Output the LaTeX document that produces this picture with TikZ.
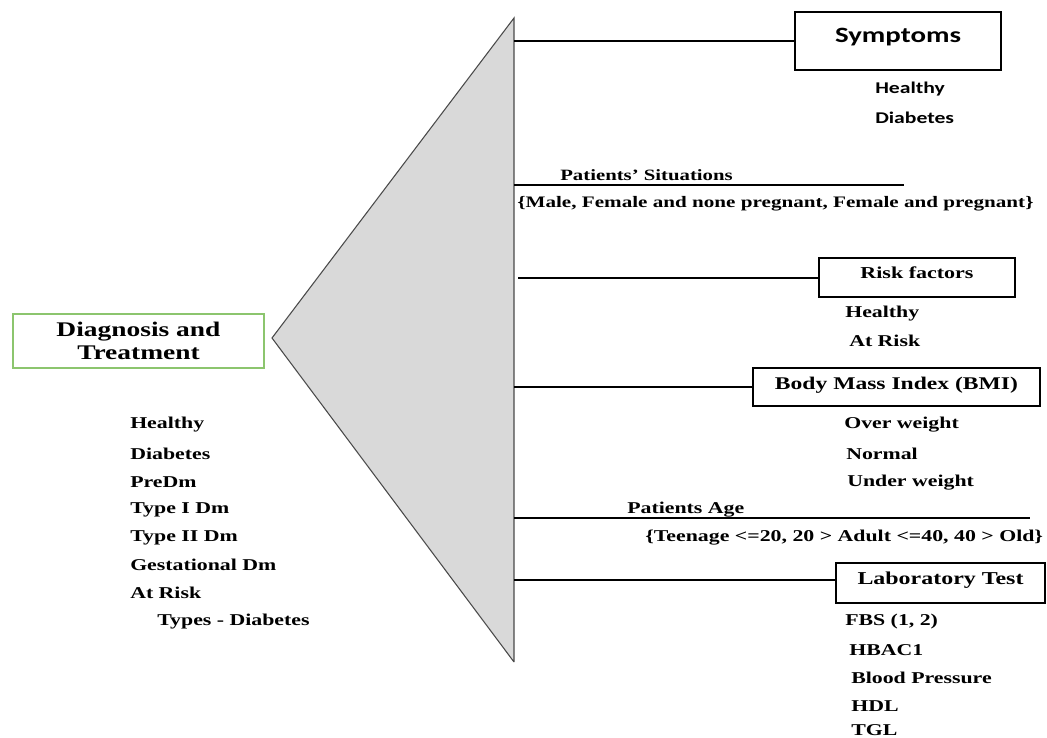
\documentclass[tikz,border=0pt]{standalone}
\usepackage{fontspec}
\setmainfont{Liberation Serif}[FakeStretch=1.32]
\newfontfamily\calfont{Carlito}[FakeStretch=1.32]
\usepackage{xcolor}
\usepackage{tikz}

\definecolor{boxgreen}{HTML}{8CC56E}
\definecolor{trifill}{HTML}{D9D9D9}
\definecolor{triedge}{HTML}{4A4A4A}

\tikzset{
  catbox/.style={draw, line width=1pt, inner sep=0pt},
  item/.style={anchor=west, inner sep=0pt},
  branch/.style={line width=1.1pt},
}

\begin{document}
\begin{tikzpicture}[x=0.75pt,y=-0.75pt,font=\bfseries\fontsize{12.4}{14}\selectfont]

\useasboundingbox (0,0) rectangle (1047,738);

\coordinate (A) at (272,338);
\coordinate (T) at (514,18);
\coordinate (B) at (514,662);

\fill[trifill] (A) -- (T) -- (B) -- cycle;
\draw[triedge, line width=0.8pt] (B) -- (A) -- (T) -- (B);

% left side
\node[draw=boxgreen, line width=1pt, minimum width=188.25pt, minimum height=40.5pt,
      align=center, font=\bfseries\fontsize{15.6}{17.5}\selectfont] (diag) at (138.5,341)
      {Diagnosis and\\Treatment};

\node[item] (d1) at (130,425) {Healthy};
\node[item] (d2) at (130,454) {Diabetes};
\node[item] (d3) at (130,482) {PreDm};
\node[item] (d4) at (130,510) {Type I Dm};
\node[item] (d5) at (130,538) {Type II Dm};
\node[item] (d6) at (130,565) {Gestational Dm};
\node[item] (d7) at (130,593) {At Risk};
\node[item] (d8) at (157,622) {Types - Diabetes};

% branches
\coordinate (s1) at (514,41);
\coordinate (s2) at (514,185);
\coordinate (s3) at (518,278);
\coordinate (s4) at (514,387);
\coordinate (s5) at (514,518);
\coordinate (s6) at (514,580);
\coordinate (e2) at (904,185);
\coordinate (e5) at (1030,518);

\node[catbox, minimum width=154.5pt, minimum height=43.5pt] (symp) at (898,41) {};
\node[catbox, minimum width=147pt, minimum height=29.25pt] (risk) at (917,277.5) {};
\node[catbox, minimum width=215.25pt, minimum height=28.5pt] (bmi) at (896.5,387) {};
\node[catbox, minimum width=156.75pt, minimum height=30pt] (lab) at (940.5,583) {};

\node[font=\calfont\bfseries\fontsize{16.4}{18}\selectfont] (sympt) at ([yshift=3pt]symp.center) {Symptoms};
\node[font=\bfseries\fontsize{12.5}{14}\selectfont] (riskt) at ([yshift=3.4pt]risk.center) {Risk factors};
\node[font=\bfseries\fontsize{13.4}{15}\selectfont] (bmit) at ([yshift=1.5pt]bmi.center) {Body Mass Index (BMI)};
\node[font=\bfseries\fontsize{13.6}{15}\selectfont] (labt) at ([yshift=2.25pt]lab.center) {Laboratory Test};

\draw[branch] (s1) -- (symp.west);
\draw[branch] (s2) -- (e2);
\draw[branch] (s3) -- (s3 -| risk.west);
\draw[branch] (s4) -- (bmi.west);
\draw[branch] (s5) -- (e5);
\draw[branch] (s6) -- (s6 -| lab.west);

\node[item, font=\calfont\bfseries\fontsize{12.3}{14}\selectfont] (sy1) at (875,89) {Healthy};
\node[item, font=\calfont\bfseries\fontsize{12.3}{14}\selectfont] (sy2) at (875,118) {Diabetes};

\node[item, font=\bfseries\fontsize{11.8}{13}\selectfont] (sit) at (560,175) {Patients' Situations};
\node[item, font=\bfseries\fontsize{12}{14}\selectfont] (sitv) at (517,204) {\{Male, Female and none pregnant, Female and pregnant\}};

\node[item] (r1) at (845,314) {Healthy};
\node[item] (r2) at (849,341) {At Risk};

\node[item] (b1) at (844,425) {Over weight};
\node[item] (b2) at (846,454) {Normal};
\node[item] (b3) at (847,483) {Under weight};

\node[item] (age) at (627,510) {Patients Age};
\node[item] (agev) at (645,538) {\{Teenage <=20, 20 > Adult <=40, 40 > Old\}};

\node[item] (l1) at (845,622) {FBS (1, 2)};
\node[item] (l2) at (849,650) {HBAC1};
\node[item] (l3) at (851,678) {Blood Pressure};
\node[item] (l4) at (851,706) {HDL};
\node[item] (l5) at (851,730) {TGL};

\end{tikzpicture}
\end{document}
